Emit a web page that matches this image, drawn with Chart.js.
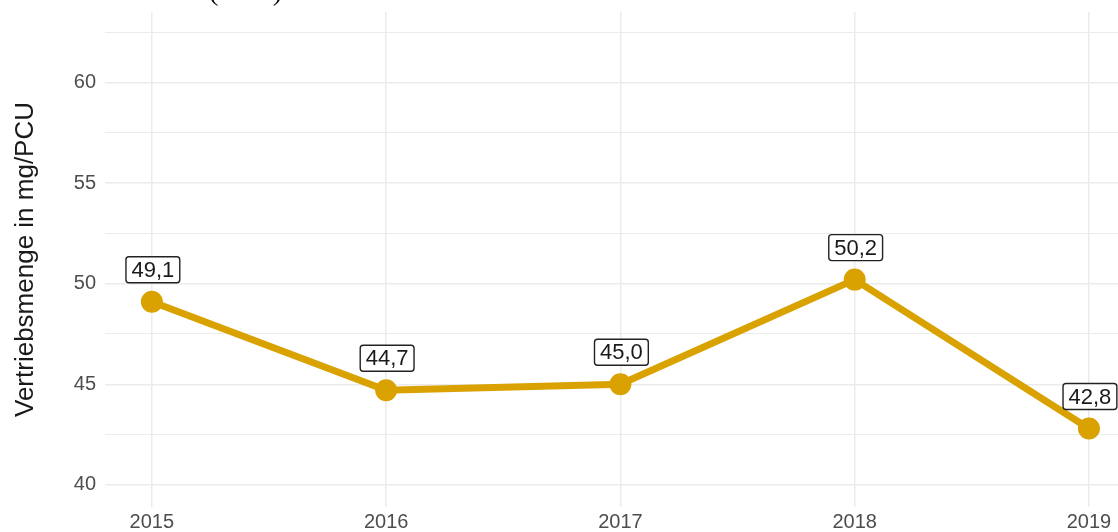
<!DOCTYPE html>
<html>
<head>
<meta charset="utf-8">
<script src="https://cdn.jsdelivr.net/npm/chart.js@4/dist/chart.umd.min.js"></script>
<style>
  html, body { margin: 0; padding: 0; background: #fff; }
  #wrap { width: 1118px; height: 532px; }
</style>
</head>
<body>
<div id="wrap"><canvas id="chart" width="1118" height="532"></canvas></div>
<script>
// data
const years = [2015, 2016, 2017, 2018, 2019];
const sales = [49.1, 44.7, 45.0, 50.2, 42.8];
const yTicks = [40, 42.5, 45, 47.5, 50, 52.5, 55, 57.5, 60, 62.5];
const yLabelTicks = [40, 45, 50, 55, 60];

const lineColor = "#D9A200";
const fontFam = '"Liberation Sans", Arial, sans-serif';
const fmt = (v) => v.toFixed(1).replace(".", ",");

// boxed value labels above the points
const labelBoxes = {
  id: "labelBoxes",
  afterDatasetsDraw(chart) {
    const ctx = chart.ctx;
    const meta = chart.getDatasetMeta(0);
    ctx.save();
    ctx.font = "22px " + fontFam;
    ctx.textAlign = "center";
    ctx.textBaseline = "middle";
    meta.data.forEach((pt, i) => {
      const txt = fmt(sales[i]);
      const w = ctx.measureText(txt).width + 11;
      const h = 26;
      const cx = pt.x + 1, cy = pt.y - 32;
      ctx.beginPath();
      ctx.roundRect(cx - w / 2, cy - h / 2, w, h, 3);
      ctx.fillStyle = "#fff";
      ctx.fill();
      ctx.lineWidth = 1.4;
      ctx.strokeStyle = "#222";
      ctx.stroke();
      ctx.fillStyle = "#1a1a1a";
      ctx.fillText(txt, cx, cy + 1);
    });
    ctx.restore();
  },
};

// cut-off title at the very top
const topTitle = {
  id: "topTitle",
  afterDraw(chart) {
    const ctx = chart.ctx;
    ctx.save();
    ctx.font = '28px "Liberation Serif", serif';
    ctx.fillStyle = "#000";
    ctx.textAlign = "right";
    ctx.textBaseline = "alphabetic";
    ctx.fillText("Populationskorrektureinheit UA (PCU)", 282, 0);
    ctx.restore();
  },
};

new Chart(document.getElementById("chart"), {
  type: "line",
  data: {
    datasets: [
      {
        data: years.map((y, i) => ({ x: y, y: sales[i] })),
        borderColor: lineColor,
        backgroundColor: lineColor,
        borderWidth: 7,
        pointRadius: 7.5,
        pointHoverRadius: 7.5,
        tension: 0,
        clip: false,
      },
    ],
  },
  options: {
    responsive: false,
    animation: false,
    layout: { autoPadding: false, padding: { top: 12, left: 0, right: 0, bottom: 0 } },
    plugins: { legend: { display: false }, tooltip: { enabled: false } },
    scales: {
      x: {
        type: "linear",
        min: 2014.8,
        max: 2019.124,
        afterBuildTicks: (axis) => {
          axis.ticks = years.map((v) => ({ value: v }));
        },
        afterFit: (axis) => {
          axis.height = 25;
          axis.paddingLeft = 0;
          axis.paddingRight = 0;
        },
        border: { display: false },
        grid: { color: "#ebebeb", lineWidth: 1.5, drawTicks: false },
        ticks: {
          padding: 3,
          color: "#4d4d4d",
          font: { family: fontFam, size: 20 },
          callback: (v) => String(v),
          maxRotation: 0,
        },
      },
      y: {
        min: 38.9,
        max: 63.5,
        afterBuildTicks: (axis) => {
          axis.ticks = yTicks.map((v) => ({ value: v }));
        },
        afterFit: (axis) => {
          axis.width = 105;
          axis.paddingTop = 0;
          axis.paddingBottom = 0;
        },
        border: { display: false },
        grid: {
          color: "#ebebeb",
          lineWidth: (c) => (yLabelTicks.includes(c.tick && c.tick.value) ? 1.5 : 1),
          drawTicks: false,
        },
        ticks: {
          padding: 9,
          color: "#4d4d4d",
          font: { family: fontFam, size: 20 },
          callback: (v) => (yLabelTicks.includes(v) ? String(v) : ""),
        },
        title: {
          display: true,
          text: "Vertriebsmenge in mg/PCU",
          color: "#1a1a1a",
          font: { family: fontFam, size: 26 },
          padding: { top: 10, bottom: 10 },
        },
      },
    },
  },
  plugins: [labelBoxes, topTitle],
});
</script>
</body>
</html>
